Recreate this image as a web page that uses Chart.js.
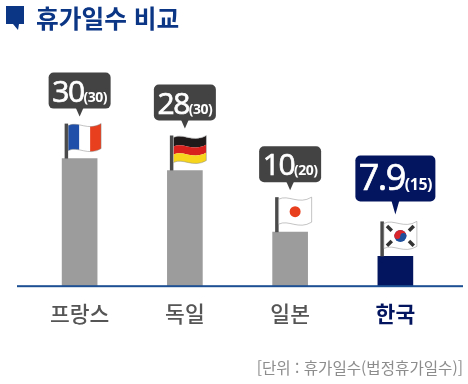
<!DOCTYPE html>
<html lang="ko">
<head>
<meta charset="utf-8">
<script src="https://cdn.jsdelivr.net/npm/chart.js@4"></script>
<style>
    html, body { margin: 0; padding: 0; background: #fff; }
    #wrap { position: relative; width: 468px; height: 384px; overflow: hidden; }
    #vacationChart { position: absolute; left: 0; top: 0; }
    #title {
        position: absolute; left: 36px; top: 0; margin: 0;
        font: bold 24.7px/34px "Noto Sans CJK KR", sans-serif; color: #0b3585;
    }
    #unit {
        position: absolute; right: 5px; top: 356px;
        font: 15.6px/22px "Noto Sans CJK KR", sans-serif; color: #8c8c8c;
    }
</style>
</head>
<body>
<div id="wrap">
    <canvas id="vacationChart" width="468" height="384"></canvas>
    <h1 id="title">휴가일수 비교</h1>
    <div id="unit">[단위 : 휴가일수(법정휴가일수)]</div>
</div>
<script>
const countries = ['프랑스', '독일', '일본', '한국'];
// printed on the callouts
const vacationDays = ['30', '28', '10', '7.9'];
const legalDays = ['(30)', '(30)', '(20)', '(15)'];
// bar heights as drawn in the picture, the original bars are not to scale with the labels
const barHeights = [30, 27.2, 12.7, 7.0];
const flags = ['fr', 'de', 'jp', 'kr'];

const GREY = '#9c9c9c';
const NAVY = '#04155f';
const DARK = '#434343';
const FONT = '"Noto Sans CJK KR", sans-serif';

// wavy flag outline, t = 0 top edge, t = 1 bottom edge
function flagBand(ctx, x, y, w, h, t0, t1) {
    const edge = (t) => y + h * t;
    ctx.beginPath();
    ctx.moveTo(x, edge(t0) + 1);
    ctx.bezierCurveTo(x + w * 0.3, edge(t0) - 4, x + w * 0.6, edge(t0) + 7, x + w, edge(t0) - 1);
    ctx.lineTo(x + w, edge(t1) - 1);
    ctx.bezierCurveTo(x + w * 0.6, edge(t1) + 7, x + w * 0.3, edge(t1) - 4, x, edge(t1) + 1);
    ctx.closePath();
}

function drawFlag(ctx, kind, x, y) {
    const w = 33, h = 25;
    ctx.save();
    flagBand(ctx, x, y, w, h, 0, 1);
    ctx.fillStyle = '#fff';
    ctx.fill();
    ctx.clip();
    if (kind === 'fr') {
        ctx.fillStyle = '#1f4fa8';
        ctx.fillRect(x, y - 6, w / 3, h + 14);
        ctx.fillStyle = '#e8401f';
        ctx.fillRect(x + w * 2 / 3, y - 6, w / 3, h + 14);
    } else if (kind === 'de') {
        [['#201a1a', 0, 0.36], ['#d8201c', 0.36, 0.68], ['#f6d51c', 0.68, 1.2]].forEach(([c, a, b]) => {
            flagBand(ctx, x, y, w, h, a, b);
            ctx.fillStyle = c;
            ctx.fill();
        });
    } else if (kind === 'jp') {
        ctx.fillStyle = '#e8401f';
        ctx.beginPath();
        ctx.arc(x + w / 2, y + h / 2 + 1, 5.5, 0, Math.PI * 2);
        ctx.fill();
    } else {
        const cx = x + w / 2, cy = y + h / 2 + 1;
        ctx.fillStyle = '#1d4f9c';
        ctx.beginPath();
        ctx.arc(cx, cy, 6, 0, Math.PI * 2);
        ctx.fill();
        ctx.fillStyle = '#d9262c';
        ctx.beginPath();
        ctx.arc(cx, cy, 6, Math.PI, 0);
        ctx.fill();
        ctx.beginPath();
        ctx.arc(cx - 3, cy, 3, 0, Math.PI * 2);
        ctx.fill();
        ctx.fillStyle = '#1d4f9c';
        ctx.beginPath();
        ctx.arc(cx + 3, cy, 3, 0, Math.PI * 2);
        ctx.fill();
        // the four bar groups
        ctx.strokeStyle = '#333';
        ctx.lineWidth = 3.5;
        [[-11, -7.5, -1], [11, -7.5, 1], [-11, 7.5, 1], [11, 7.5, -1]].forEach(([dx, dy, s]) => {
            ctx.beginPath();
            ctx.moveTo(cx + dx - 2.4, cy + dy - 2.4 * s * -1);
            ctx.lineTo(cx + dx + 2.4, cy + dy + 2.4 * s * -1);
            ctx.stroke();
        });
    }
    ctx.restore();
    flagBand(ctx, x, y, w, h, 0, 1);
    ctx.strokeStyle = 'rgba(130,130,130,0.6)';
    ctx.lineWidth = 0.8;
    ctx.stroke();
}

function drawCallout(ctx, cx, top, bottom, tip, halfW, color) {
    ctx.fillStyle = color;
    ctx.beginPath();
    ctx.roundRect(cx - halfW, top, halfW * 2, bottom - top, 5);
    ctx.fill();
    ctx.beginPath();
    ctx.moveTo(cx - 4, bottom - 1);
    ctx.lineTo(cx + 4, bottom - 1);
    ctx.lineTo(cx, tip);
    ctx.closePath();
    ctx.fill();
}

// callout text, flag and pole sit on top of each bar
const barDecor = {
    id: 'barDecor',
    afterDatasetsDraw(chart) {
        const ctx = chart.ctx;
        const xScale = chart.scales.x;
        const yScale = chart.scales.y;

        // baseline runs wider than the category band
        ctx.fillStyle = '#1c4f93';
        ctx.fillRect(17, yScale.getPixelForValue(0) - 1, 446, 2);

        chart.getDatasetMeta(0).data.forEach((bar, i) => {
            const cx = xScale.getPixelForValue(i);
            const barTop = yScale.getPixelForValue(barHeights[i]);
            const isKorea = countries[i] === '한국';

            // pole
            ctx.fillStyle = '#4a4a4a';
            ctx.fillRect(cx - 15, barTop - 35, 3.5, 35);
            drawFlag(ctx, flags[i], cx - 11.5, barTop - 34);

            const boxTop = barTop + (isKorea ? -101 : -86);
            const boxBottom = barTop + (isKorea ? -55 : -50);
            const halfW = isKorea ? 40 : 31;
            drawCallout(ctx, cx, boxTop, boxBottom, barTop - 42, halfW, isKorea ? NAVY : DARK);

            // value plus legal days, centred as one run
            ctx.fillStyle = '#fff';
            ctx.textBaseline = 'alphabetic';
            ctx.textAlign = 'left';
            const bigFont = `${isKorea ? 36 : 30}px "Open Sans", sans-serif`;
            const smallFont = `bold ${isKorea ? 16 : 14}px "Open Sans", sans-serif`;
            ctx.letterSpacing = '-1.5px';
            ctx.font = bigFont;
            const bigW = ctx.measureText(vacationDays[i]).width;
            ctx.letterSpacing = '-0.5px';
            ctx.font = smallFont;
            const smallW = ctx.measureText(legalDays[i]).width;
            const startX = cx - (bigW + smallW) / 2;
            const baseY = boxBottom - (isKorea ? 11 : 7);
            ctx.letterSpacing = '-1.5px';
            ctx.font = bigFont;
            ctx.lineWidth = 0.7;
            ctx.strokeStyle = '#fff';
            ctx.strokeText(vacationDays[i], startX, baseY);
            ctx.fillText(vacationDays[i], startX, baseY);
            ctx.letterSpacing = '-0.5px';
            ctx.font = smallFont;
            ctx.fillText(legalDays[i], startX + bigW, baseY);
            ctx.letterSpacing = '0px';
        });

        // title marker
        ctx.fillStyle = '#0b3585';
        ctx.beginPath();
        ctx.moveTo(6, 6);
        ctx.lineTo(24, 6);
        ctx.lineTo(24, 24);
        ctx.lineTo(19, 24);
        ctx.lineTo(18, 30);
        ctx.lineTo(13, 24);
        ctx.lineTo(6, 24);
        ctx.closePath();
        ctx.fill();
    }
};

function initChart() {
    const ctx = document.getElementById('vacationChart').getContext('2d');
    new Chart(ctx, {
        type: 'bar',
        data: {
            labels: countries,
            datasets: [{
                data: barHeights,
                backgroundColor: countries.map(c => c === '한국' ? NAVY : GREY),
                barThickness: 35,
                borderWidth: 0
            }]
        },
        options: {
            responsive: false,
            animation: false,
            layout: { padding: { top: 31, left: 27, right: 20, bottom: 42 } },
            plugins: {
                legend: { display: false },
                tooltip: { enabled: false },
                title: { display: false }
            },
            scales: {
                y: { display: false, min: 0, max: 60 },
                x: {
                    border: { display: false },
                    grid: { display: false, drawTicks: false },
                    ticks: {
                        padding: 15,
                        maxRotation: 0,
                        color: (c) => countries[c.index] === '한국' ? NAVY : '#555555',
                        font: (c) => ({
                            family: FONT,
                            size: 21.5,
                            weight: countries[c.index] === '한국' ? 'bold' : '500'
                        })
                    }
                }
            }
        },
        plugins: [barDecor]
    });
}

window.addEventListener('DOMContentLoaded', initChart);
</script>
</body>
</html>
